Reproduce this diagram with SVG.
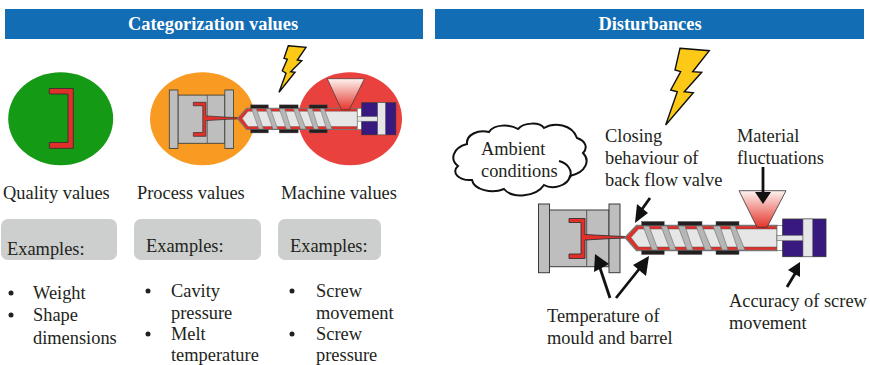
<svg xmlns="http://www.w3.org/2000/svg" xmlns:xlink="http://www.w3.org/1999/xlink" width="870" height="365" viewBox="0 0 870 365">
<style>
text{font-family:"Liberation Serif","Times New Roman",serif;font-size:18.4px;fill:#231f20}
.h{font-weight:bold;fill:#fff;text-anchor:middle;font-size:18.4px}
.bar{fill:#136db4}
.box{fill:#cdcfce}
.g{fill:#bdbebd;stroke:#3a3a3a;stroke-width:1}
.r{fill:#e1302a;stroke:#3a3030;stroke-width:.9}
.heat{fill:#231f20;stroke:#555;stroke-width:.5}
.fl{fill:#b5b6b5;stroke:#666;stroke-width:.6}
.bolt{fill:#fcc917;stroke:#111;stroke-width:1.4}
.a{stroke:#111;stroke-width:2.8;fill:none}
.ah{fill:#111}
.dot{fill:#231f20}
</style>
<defs>
<linearGradient id="hop" x1="0" y1="0" x2="0" y2="1"><stop offset="0" stop-color="#fdf3f0"/><stop offset="1" stop-color="#e4352c"/></linearGradient>
<g id="machine">
<rect class="g" x="549.5" y="210" width="59.5" height="56.7"/>
<line x1="586.7" y1="210" x2="586.7" y2="266.7" stroke="#555" stroke-width="1"/>
<rect class="g" x="538.5" y="204" width="11" height="68.7"/>
<rect class="g" x="609" y="204" width="11" height="68.7"/>
<path class="r" d="M569 218.500H585V234.500L612 236L626 236.500V238L612 238.500L585 240V258.500H569V254H581V222.500H569Z"/>
<path d="M625 237.500L636.500 225.500H777V250.500H636.500Z" fill="#e1302a" stroke="#777" stroke-width="1.300"/>
<path d="M631 237.500L638.500 229H777V247H638.500Z" fill="#e6e6e6" stroke="#555" stroke-width=".5"/>
<rect class="heat" x="641.700" y="221.500" width="22.500" height="4"/><rect class="heat" x="678" y="221.500" width="24" height="4"/><rect class="heat" x="716" y="221.500" width="23" height="4"/>
<rect class="heat" x="641.700" y="250.500" width="22.500" height="4"/><rect class="heat" x="678" y="250.500" width="24" height="4"/><rect class="heat" x="716" y="250.500" width="23" height="4"/>
<g class="fl"><path d="M643 226H649L658 250H652Z"/><path d="M661 226H667L676 250H670Z"/><path d="M678 226H685L693 250H687Z"/><path d="M696 226H702L712 250H705Z"/><path d="M713 226H720L728 250H722Z"/><path d="M730 226H735L745 250H738Z"/></g>
<path d="M739 190.700H786L767 227.300H757Z" fill="url(#hop)" stroke="#333" stroke-width=".8"/>
<rect x="777" y="225.500" width="6" height="25" fill="#fff" stroke="#555" stroke-width=".6"/>
<rect x="782.700" y="219" width="43.300" height="37.700" fill="#37197f" stroke="#333" stroke-width=".8"/>
<rect x="777" y="235.300" width="26" height="5.400" fill="#e6e6e6" stroke="#666" stroke-width=".6"/>
<rect x="803" y="219" width="9.700" height="37.700" fill="#e6e6e6" stroke="#666" stroke-width=".6"/>
</g>
</defs>

<g id="header-categorization"><rect class="bar" x="5" y="9" width="418" height="30"/><text class="h" x="213" y="30">Categorization values</text></g>
<g id="header-disturbances"><rect class="bar" x="435" y="9" width="429" height="30"/><text class="h" x="650" y="30">Disturbances</text></g>

<g id="quality-icon">
<ellipse cx="60.700" cy="118.700" rx="52.500" ry="46.500" fill="#149a14"/>
<path class="r" d="M49.300 88.500H73.300V148.300H49.300V142.500H68V94H49.300Z"/>
</g>
<g id="process-machine-icons">
<ellipse cx="202.500" cy="118.700" rx="52.500" ry="46.500" fill="#f99b22"/>
<ellipse cx="350" cy="118.700" rx="52" ry="46.500" fill="#e9413d"/>
<use xlink:href="#machine" href="#machine" transform="translate(169.300 90) scale(.788 .85) translate(-538.500 -204)"/>
<path class="bolt" d="M288.300 45.700L306 47.300L297.300 60L301.700 60.700L290.700 71.700L295 72.300L279 92.300L286 73.300L282.300 70.700L287.300 59.300L284 58.300Z"/>
</g>

<g id="quality-values">
<text x="3" y="199">Quality values</text>
<rect class="box" x="1" y="219" width="116" height="41" rx="7"/>
<text x="7" y="255">Examples:</text>
<circle class="dot" cx="11" cy="293" r="2.500"/><text x="33" y="299">Weight</text>
<circle class="dot" cx="11" cy="315" r="2.500"/><text x="33" y="321">Shape</text>
<text x="33" y="344">dimensions</text>
</g>
<g id="process-values">
<text x="137" y="199">Process values</text>
<rect class="box" x="134" y="219" width="127" height="41" rx="7"/>
<text x="146" y="252">Examples:</text>
<circle class="dot" cx="148" cy="291" r="2.500"/><text x="171" y="297">Cavity</text>
<text x="171" y="319">pressure</text>
<circle class="dot" cx="148" cy="334" r="2.500"/><text x="171" y="340">Melt</text>
<text x="171" y="361">temperature</text>
</g>
<g id="machine-values">
<text x="281" y="199">Machine values</text>
<rect class="box" x="278" y="219" width="103" height="41" rx="7"/>
<text x="290" y="252">Examples:</text>
<circle class="dot" cx="292" cy="291" r="2.500"/><text x="316" y="297">Screw</text>
<text x="316" y="319">movement</text>
<circle class="dot" cx="292" cy="334" r="2.500"/><text x="316" y="340">Screw</text>
<text x="316" y="361">pressure</text>
</g>

<g id="disturbance-bolt"><path class="bolt" d="M680 48.300L709.300 50.700L692.700 71.700L701.700 72.300L684.300 91.700L693.300 92.700L665.700 125L677.300 91.700L670.700 90L680.700 71.700L675 70Z"/></g>
<g id="ambient-conditions">
<path d="M467 144C466 135 478 129 489 132C494 124 510 124 518 129C524 122 540 122 544 128C554 122 572 124 577 138C586 141 588 148 583 153C590 160 587 172 570 176C568 186 552 190 544 185C536 197 512 199 504 189C492 194 474 190 472 180C458 181 451 172 458 166C450 160 452 148 467 144Z" fill="#fff" stroke="#111" stroke-width="2"/>
<path d="M559 161C567 163 573 170 570 178" fill="none" stroke="#111" stroke-width="2"/>
<text x="481" y="155">Ambient</text><text x="481" y="177">conditions</text>
</g>
<g id="closing-behaviour"><text x="605" y="142">Closing</text><text x="605" y="164">behaviour of</text><text x="605" y="186">back flow valve</text></g>
<g id="material-fluctuations"><text x="737" y="142">Material</text><text x="737" y="164">fluctuations</text></g>
<g id="injection-machine"><use xlink:href="#machine" href="#machine"/></g>
<g id="temperature"><text x="547" y="322">Temperature of</text><text x="547" y="344">mould and barrel</text></g>
<g id="accuracy"><text x="729" y="307">Accuracy of screw</text><text x="729" y="329">movement</text></g>

<g id="connectors">
<path class="a" d="M650 198L640 212"/><path class="ah" d="M635 223L637 204L648 213Z"/>
<path class="a" d="M763 167V195"/><path class="ah" d="M763 204L755 192H771Z"/>
<path class="a" d="M610 298L600 268"/><path class="ah" d="M595 254L609 264L594 272Z"/>
<path class="a" d="M616 298L640 268"/><path class="ah" d="M649 256L646 276L633 265Z"/>
<path class="a" d="M787 287L796 272"/><path class="ah" d="M800 262L800 277L788 270Z"/>
</g>
</svg>
